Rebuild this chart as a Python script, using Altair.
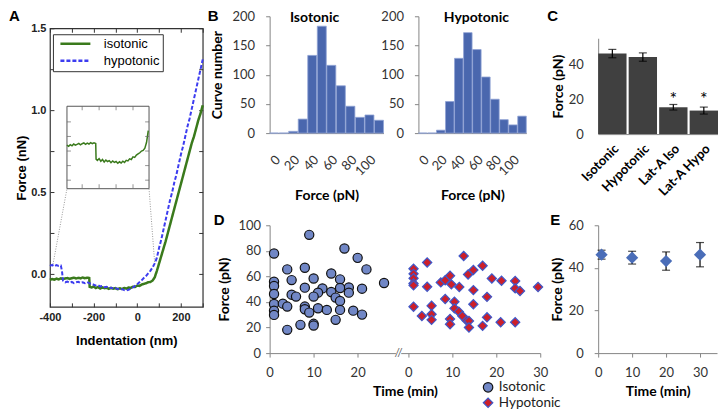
import altair as alt
import pandas as pd

FA = "Liberation Sans"
FB = "Lato"
GREEN = "#3a7a1c"
BLUE = "#3c3cf0"

# ---------------- Panel A: force curves ----------------
green_x = [-400, -390, -380, -370, -360, -350, -340, -330, -320, -310, -300, -290, -280, -270, -260, -250, -240, -230, -220,
           -218, -210, -200, -190, -180, -170, -160, -150, -140, -130, -120, -110, -100, -90, -80, -70, -60, -50, -40, -30,
           -20, -10, 0, 10, 20, 30, 40, 50, 60, 70, 80, 90, 100, 110, 120, 130, 140, 150, 160, 170, 180, 190, 200, 210, 220,
           230, 240, 250, 260, 270, 280, 290, 300]
green_f = [-0.035, -0.030, -0.034, -0.028, -0.032, -0.026, -0.030, -0.027, -0.024, -0.029, -0.025, -0.022, -0.027, -0.023,
           -0.026, -0.021, -0.025, -0.022, -0.024,
           -0.078,
           -0.082, -0.076, -0.085, -0.079, -0.088, -0.081, -0.086, -0.083, -0.090, -0.084, -0.089, -0.086, -0.092, -0.087,
           -0.091, -0.085, -0.089, -0.082, -0.084, -0.077, -0.079,
           -0.070, -0.072, -0.064, -0.060, -0.056, -0.050, -0.048, -0.040, -0.020,
           0.020, 0.065, 0.110, 0.155, 0.200, 0.250, 0.300, 0.350, 0.400, 0.450, 0.500, 0.550, 0.600, 0.650, 0.700, 0.750,
           0.800, 0.840, 0.890, 0.940, 0.980, 1.030]
blue_x = [-400, -390, -380, -370, -360, -350, -345, -340, -330, -320, -310, -300, -290, -280, -270, -260, -250, -240, -230,
          -220, -210, -200, -190, -180, -170, -160, -150, -140, -130, -120, -110, -100, -90, -80, -70, -60, -50, -40, -30,
          -20, -10, 0, 10, 20, 30, 40, 50, 60, 70, 80, 90, 100, 110, 120, 130, 140, 150, 160, 170, 180, 190, 200, 210, 220,
          230, 240, 250, 260, 270, 280, 290, 300]
blue_f = [0.050, 0.056, 0.047, 0.055, 0.050, 0.052,
          0.020,
          -0.040, -0.050, -0.046, -0.053, -0.048, -0.055, -0.050, -0.047, -0.054, -0.050, -0.056, -0.049, -0.055,
          -0.060, -0.064, -0.070, -0.068, -0.075, -0.072, -0.080, -0.078, -0.085, -0.083, -0.088, -0.086, -0.090, -0.094,
          -0.092, -0.098, -0.100, -0.096, -0.090, -0.082, -0.072,
          -0.062, -0.050, -0.038, -0.024, -0.012, 0.005, 0.020, 0.040,
          0.065, 0.100, 0.160, 0.210, 0.270, 0.330, 0.390, 0.450, 0.500, 0.560, 0.610, 0.670, 0.730, 0.780, 0.840, 0.900,
          0.950, 1.010, 1.070, 1.130, 1.190, 1.250, 1.310]
conds_a = ["isotonic", "hypotonic"]
inset_range_x = [-390, 95]
inset_range_f = [-0.178, 0.104]
inset_xticks = [-300, -200, -100, 0]
inset_yticks = [0.05, 0.0, -0.05, -0.10, -0.15]
inset_box = {"x1": [-322], "x2": [54], "y1": [0.521], "y2": [1.024]}
connect_x = [-322, -386, 54, 80]
connect_f = [0.521, 0.06, 0.521, 0.065]
connect_id = [0, 0, 1, 1]

# ---------------- Panel B: histograms ----------------
hist_bins = [0, 10, 20, 30, 40, 50, 60, 70, 80, 90, 100, 110]
iso_counts = [0, 0, 3, 24, 133, 183, 116, 81, 46, 27, 31, 22]
hypo_counts = [0, 0, 5, 54, 128, 172, 143, 96, 58, 23, 14, 29]

# ---------------- Panel C: bar chart ----------------
c_cats = ["Isotonic", "Hypotonic", "Lat-A Iso", "Lat-A Hypo"]
c_mean = [46.2, 44.2, 15.4, 13.5]
c_err = [2.4, 2.4, 1.6, 2.0]
star_cats = ["Lat-A Iso", "Lat-A Hypo"]
star_y = [19.5, 19.5]

# ---------------- Panel D: scatter over time ----------------
iso_t = [1, 1, 1, 1, 1, 1, 1, 9, 17, 20, 22, 4, 8, 5, 10, 14, 16, 26, 18, 21, 8, 12, 16, 11, 14, 18, 5, 6, 10, 15, 16,
         3, 4, 8, 8, 9, 11, 13, 16, 19, 21, 7, 10, 10, 15, 4]
iso_f = [77.9, 55.8, 52.5, 46.2, 38.4, 33.2, 29.9, 92.5, 81.8, 74.5, 65.5, 65.5, 66.8, 57.1, 58.4, 62.3, 57.7, 54.8, 51.4,
         50.4, 51.2, 50.6, 50.9, 47.3, 47.8, 47.3, 45.7, 44.2, 44.2, 43.4, 40.8, 38.7, 36.4, 36.4, 34.3, 31.7, 35.1, 33.8,
         33.8, 33.2, 30.1, 22.1, 22.9, 21.6, 26.0, 18.2]
hypo_t = [1.2, 1.2, 1.2, 1.2, 1.2, 1.2, 4.3, 4.3, 3.1, 5.3, 5.3, 5.3, 7.4, 8.4, 9.5, 9.8, 11.6, 8.4, 10.5, 10.5, 11.5,
          12.3, 13.3, 9.5, 9.5, 13.8, 13.8, 12.6, 13.6, 14.8, 16.9, 14.8, 14.8, 17.9, 17.9, 16.9, 19, 21.2, 21, 24.3,
          24.3, 25.4, 24.3, 29.5]
hypo_f = [66, 62, 58.5, 54.5, 53, 36.3, 70.9, 51.9, 29, 37, 30.4, 26, 55.3, 57, 60.5, 53.8, 51.7, 42.3, 40.2, 35, 32.4,
          29, 25.4, 26.7, 22.6, 25.2, 20, 76, 61.5, 65, 68.3, 49.3, 38.2, 44, 28, 21.3, 58.4, 56.6, 24.1, 56.4, 50.6,
          48.6, 24.1, 51.7]
conds_d = ["Isotonic", "Hypotonic"]
d_offset = 31.5
d_break = 29.3

# ---------------- Panel E: mean over time ----------------
e_t = [1, 10, 20, 30]
e_mean = [46.2, 44.8, 43.2, 46.2]
e_err = [2.1, 3.0, 4.3, 5.7]


def xl_axis(**kw):
    base = dict(domainColor="#868686", tickColor="#868686", tickSize=4, labelFont=FB, labelFontSize=13,
                labelColor="#333333", titleFont=FB, titleFontSize=14, titleFontWeight="bold", titleColor="black",
                grid=False, labelFlush=False, labelOverlap=False)
    base.update(kw)
    return alt.Axis(**base)


def letter(ch, x, y):
    return alt.Chart(pd.DataFrame({"t": [ch]})).mark_text(
        align="left", baseline="top", font=FA, fontSize=15, fontWeight="bold", color="black"
    ).encode(x=alt.value(x), y=alt.value(y), text="t:N")


def spacer(h):
    return alt.Chart(pd.DataFrame({"v": [0]})).mark_point(opacity=0).encode(
        x=alt.X("v:Q", axis=None), y=alt.Y("v:Q", axis=None)
    ).properties(width=1, height=h)


# ===== Panel A =====
a_xs = alt.Scale(domain=[-400, 300], nice=False, zero=False)
a_ys = alt.Scale(domain=[-0.2, 1.5], nice=False, zero=False)
a_xticks = list(range(-400, 301, 100))
a_yticks = [0, 0.25, 0.5, 0.75, 1.0, 1.25, 1.5]
a_xaxis = alt.Axis(values=a_xticks, labelExpr="datum.value % 200 == 0 ? toString(datum.value) : ''",
                   domain=False, offset=-4, tickSize=4, tickColor="#333", labelFont=FA, labelFontSize=11,
                   labelFontWeight="bold", labelColor="#222", labelPadding=5, title="Indentation (nm)", titleFont=FA,
                   titleFontSize=13, titleFontWeight="bold", titlePadding=12, grid=False, labelFlush=False,
                   labelOverlap=False)
a_yaxis = alt.Axis(values=a_yticks, labelExpr="datum.value % 0.5 == 0 ? format(datum.value, '.1f') : ''",
                   domain=False, offset=-4, tickSize=4, tickColor="#333", labelFont=FA, labelFontSize=11,
                   labelFontWeight="bold", labelColor="#222", labelPadding=4, title="Force (nN)", titleFont=FA,
                   titleFontSize=13, titleFontWeight="bold", titlePadding=2, grid=False, labelFlush=False,
                   labelOverlap=False)
leg_a = alt.Legend(title=None, orient="none", legendX=3, legendY=6, strokeColor="#333", fillColor="white",
                   padding=3, symbolType="M-3,0H3", symbolSize=100, symbolOffset=13, symbolStrokeWidth=2.5,
                   labelFont=FA, labelFontSize=13, labelColor="black", rowPadding=3, labelOffset=22)
a_color = alt.Color("cond:N", scale=alt.Scale(domain=conds_a, range=[GREEN, BLUE]), legend=leg_a)
a_dash = alt.StrokeDash("cond:N", scale=alt.Scale(domain=conds_a, range=[[1, 0], [4, 2]]), legend=leg_a)

green_df = pd.DataFrame({"x": green_x, "f": green_f, "cond": "isotonic"})
blue_df = pd.DataFrame({"x": blue_x, "f": blue_f, "cond": "hypotonic"})
inset_df = green_df[(green_df.x >= inset_range_x[0]) & (green_df.x <= inset_range_x[1])]

box = alt.Chart(pd.DataFrame(inset_box)).mark_rect(fill="white", stroke="#555", strokeWidth=1).encode(
    x=alt.X("x1:Q", scale=a_xs, axis=a_xaxis), x2="x2:Q",
    y=alt.Y("y1:Q", scale=a_ys, axis=a_yaxis), y2="y2:Q")
conn = alt.Chart(pd.DataFrame({"x": connect_x, "f": connect_f, "id": connect_id})).mark_line(
    color="#999", strokeWidth=1, strokeDash=[1, 1.5]).encode(
    x=alt.X("x:Q", scale=a_xs, axis=a_xaxis), y=alt.Y("f:Q", scale=a_ys, axis=a_yaxis), detail="id:N")
gline = alt.Chart(green_df).mark_line(strokeWidth=2.5).encode(
    x=alt.X("x:Q", scale=a_xs, axis=a_xaxis), y=alt.Y("f:Q", scale=a_ys, axis=a_yaxis),
    color=a_color, strokeDash=a_dash)
bline = alt.Chart(blue_df).mark_line(strokeWidth=2).encode(
    x=alt.X("x:Q", scale=a_xs, axis=a_xaxis), y=alt.Y("f:Q", scale=a_ys, axis=a_yaxis),
    color=a_color, strokeDash=a_dash)
a_main = alt.layer(box, conn, gline, bline, letter("A", -41, -19))

# inset: zoom of the isotonic curve, drawn on its own scales inside the box
ix = alt.Scale(domain=inset_range_x, range=[17, 99.3], nice=False, zero=False)
iy = alt.Scale(domain=inset_range_f, range=[160.3, 78], nice=False, zero=False)
i_line = alt.Chart(inset_df).mark_line(color=GREEN, strokeWidth=1.5).encode(
    x=alt.X("x:Q", scale=ix, axis=None), y=alt.Y("f:Q", scale=iy, axis=None))
yt_df = pd.DataFrame({"y": inset_yticks, "xl": inset_range_x[0], "xr": inset_range_x[1]})
xt_df = pd.DataFrame({"x": inset_xticks, "yb": inset_range_f[0], "yt": inset_range_f[1]})
i_tl = alt.Chart(yt_df).mark_tick(orient="horizontal", size=4, thickness=1, color="#666", xOffset=2).encode(
    x=alt.X("xl:Q", scale=ix, axis=None), y=alt.Y("y:Q", scale=iy, axis=None))
i_tr = alt.Chart(yt_df).mark_tick(orient="horizontal", size=4, thickness=1, color="#666", xOffset=-2).encode(
    x=alt.X("xr:Q", scale=ix, axis=None), y=alt.Y("y:Q", scale=iy, axis=None))
i_tt = alt.Chart(xt_df).mark_tick(orient="vertical", size=4, thickness=1, color="#666", yOffset=2).encode(
    x=alt.X("x:Q", scale=ix, axis=None), y=alt.Y("yt:Q", scale=iy, axis=None))
i_tb = alt.Chart(xt_df).mark_tick(orient="vertical", size=4, thickness=1, color="#666", yOffset=-2).encode(
    x=alt.X("x:Q", scale=ix, axis=None), y=alt.Y("yb:Q", scale=iy, axis=None))
a_inset = alt.layer(i_line, i_tl, i_tr, i_tt, i_tb)

a_frame = alt.Chart(pd.DataFrame({"x": [0], "f": [0]})).mark_point(opacity=0).encode(
    x=alt.X("x:Q", scale=a_xs, axis=alt.Axis(orient="top", values=a_xticks, labels=False, domain=False, offset=-4,
                                               tickSize=4, tickColor="#333", title=None, grid=False)),
    y=alt.Y("f:Q", scale=a_ys, axis=alt.Axis(orient="right", values=a_yticks, labels=False, domain=False, offset=-4,
                                               tickSize=4, tickColor="#333", title=None, grid=False)))

panel_a = alt.layer(a_main, a_inset, a_frame).resolve_scale(x="independent", y="independent").properties(
    width=153, height=279, view=alt.ViewBackground(stroke="#333", strokeWidth=1.2))


# ===== Panel B =====
def hist(counts, label, label_x, ytitle, width, let=None):
    df = pd.DataFrame({"bin": hist_bins, "count": counts})
    bx = alt.X("bin:O", scale=alt.Scale(paddingInner=0.06, paddingOuter=0.0),
               axis=xl_axis(labelAngle=-45, ticks=False, labelPadding=20, titlePadding=10, title="Force (pN)",
                            labelExpr="datum.value % 20 == 0 && datum.value <= 100 ? datum.label : ''"))
    by = alt.Y("count:Q", scale=alt.Scale(domain=[0, 200], nice=False),
               axis=xl_axis(values=[0, 50, 100, 150, 200], labelPadding=11, title=ytitle, titlePadding=8))
    bars = alt.Chart(df).mark_bar(color="#4a67ae", stroke="#8fa2d4", strokeWidth=0.8).encode(x=bx, y=by)
    ttl = alt.Chart(pd.DataFrame({"t": [label]})).mark_text(
        font=FB, fontSize=14, fontWeight="bold", color="black", baseline="middle").encode(
        x=alt.value(label_x), y=alt.value(1.5), text="t:N")
    layers = [bars, ttl]
    if let:
        layers.append(letter(let, -62, -7.7))
    return alt.layer(*layers).properties(width=width, height=117)


panel_b1 = hist(iso_counts, "Isotonic", 45, "Curve number", 114, "B")
panel_b2 = hist(hypo_counts, "Hypotonic", 58, None, 108)

# ===== Panel C =====
c_df = pd.DataFrame({"cond": c_cats, "mean": c_mean,
                     "lo": [m - e for m, e in zip(c_mean, c_err)],
                     "hi": [m + e for m, e in zip(c_mean, c_err)]})
cx = alt.X("cond:N", sort=c_cats, scale=alt.Scale(paddingInner=0.07, paddingOuter=0.0),
           axis=xl_axis(labelAngle=-45, ticks=False, labelFontWeight="bold", labelColor="black", labelPadding=8,
                        title=None))
cy_scale = alt.Scale(domain=[0, 55], nice=False)
cy_axis = xl_axis(values=[0, 20, 40], ticks=False, labelPadding=15, title="Force (pN)", titlePadding=3)
c_bars = alt.Chart(c_df).mark_bar(color="#404040").encode(
    x=cx, y=alt.Y("mean:Q", scale=cy_scale, axis=cy_axis, title="Force (pN)"))
c_rule = alt.Chart(c_df).mark_rule(color="black", strokeWidth=1.2).encode(
    x=cx, y=alt.Y("lo:Q", scale=cy_scale, axis=cy_axis, title="Force (pN)"), y2="hi:Q")
c_cap1 = alt.Chart(c_df).mark_tick(color="black", thickness=1.2, size=8).encode(
    x=cx, y=alt.Y("lo:Q", scale=cy_scale, axis=cy_axis, title="Force (pN)"))
c_cap2 = alt.Chart(c_df).mark_tick(color="black", thickness=1.2, size=8).encode(
    x=cx, y=alt.Y("hi:Q", scale=cy_scale, axis=cy_axis, title="Force (pN)"))
c_star = alt.Chart(pd.DataFrame({"cond": star_cats, "y": star_y, "t": ["*", "*"]})).mark_text(
    font=FB, fontSize=18, color="black", baseline="middle").encode(
    x=cx, y=alt.Y("y:Q", scale=cy_scale, axis=cy_axis, title="Force (pN)"), text="t:N")
panel_c = alt.layer(c_bars, c_rule, c_cap1, c_cap2, c_star, letter("C", -51, -29.7)).properties(width=120, height=96)

# ===== Panel D =====
d_df = pd.DataFrame({
    "pos": iso_t + [t + d_offset for t in hypo_t],
    "force": iso_f + hypo_f,
    "cond": ["Isotonic"] * len(iso_t) + ["Hypotonic"] * len(hypo_t)})
dx_scale = alt.Scale(domain=[0, 61.5], nice=False, zero=False)
dy_scale = alt.Scale(domain=[0, 100], nice=False)
dx_axis = xl_axis(values=[0, 10, 20, 31.5, 41.5, 51.5, 61.5],
                  labelExpr="datum.value > 30 ? format(datum.value - 31.5, 'd') : format(datum.value, 'd')",
                  labelPadding=9, title="Time (min)", titlePadding=5, zindex=0)
dy_axis = xl_axis(values=[0, 20, 40, 60, 80, 100], labelPadding=5, title="Force (pN)", titlePadding=7, zindex=0)
leg_d = alt.Legend(title=None, orient="none", legendX=212, legendY=155.5, symbolSize=90, labelFont=FB,
                   labelFontSize=13.5, labelColor="#222", rowPadding=0.5, labelOffset=4, padding=0,
                   symbolStrokeWidth=1.2)
d_pts = alt.Chart(d_df).mark_point(filled=True, opacity=1, strokeWidth=1.2, size=85).encode(
    x=alt.X("pos:Q", scale=dx_scale, axis=dx_axis),
    y=alt.Y("force:Q", scale=dy_scale, axis=dy_axis),
    shape=alt.Shape("cond:N", scale=alt.Scale(domain=conds_d, range=["circle", "diamond"]), legend=leg_d),
    fill=alt.Fill("cond:N", scale=alt.Scale(domain=conds_d, range=["#7187c6", "#cc1f2a"]), legend=leg_d),
    stroke=alt.Stroke("cond:N", scale=alt.Scale(domain=conds_d, range=["#111111", "#3f57c8"]), legend=leg_d))
brk = pd.DataFrame({"x1": [d_break - 0.6], "x2": [d_break + 0.6], "y1": [-2.0], "y2": [2.0],
                    "x": [d_break], "y": [0.0], "t": ["//"]})
d_gap = alt.Chart(brk).mark_rect(color="white").encode(
    x=alt.X("x1:Q", scale=dx_scale, axis=dx_axis), x2="x2:Q",
    y=alt.Y("y1:Q", scale=dy_scale, axis=dy_axis), y2="y2:Q")
d_brk = alt.Chart(brk).mark_text(font=FB, fontSize=12, color="#666", baseline="middle").encode(
    x=alt.X("x:Q", scale=dx_scale, axis=dx_axis), y=alt.Y("y:Q", scale=dy_scale, axis=dy_axis), text="t:N")
panel_d = alt.layer(d_pts, d_gap, d_brk, letter("D", -56, -12)).properties(width=271, height=128)

# ===== Panel E =====
e_df = pd.DataFrame({"t": e_t, "mean": e_mean,
                     "lo": [m - e for m, e in zip(e_mean, e_err)],
                     "hi": [m + e for m, e in zip(e_mean, e_err)]})
ex_scale = alt.Scale(domain=[0, 35], nice=False, zero=False)
ey_scale = alt.Scale(domain=[0, 60], nice=False)
ex_axis = xl_axis(values=[0, 10, 20, 30], labelPadding=9, title="Time (min)", titlePadding=5)
ey_axis = xl_axis(values=[0, 20, 40, 60], labelPadding=11, title="Force (pN)", titlePadding=4)
e_rule = alt.Chart(e_df).mark_rule(color="black", strokeWidth=1.2).encode(
    x=alt.X("t:Q", scale=ex_scale, axis=ex_axis), y=alt.Y("lo:Q", scale=ey_scale, axis=ey_axis, title="Force (pN)"),
    y2="hi:Q")
e_cap1 = alt.Chart(e_df).mark_tick(color="black", thickness=1.2, size=8, orient="horizontal").encode(
    x=alt.X("t:Q", scale=ex_scale, axis=ex_axis), y=alt.Y("lo:Q", scale=ey_scale, axis=ey_axis, title="Force (pN)"))
e_cap2 = alt.Chart(e_df).mark_tick(color="black", thickness=1.2, size=8, orient="horizontal").encode(
    x=alt.X("t:Q", scale=ex_scale, axis=ex_axis), y=alt.Y("hi:Q", scale=ey_scale, axis=ey_axis, title="Force (pN)"))
e_pts = alt.Chart(e_df).mark_point(shape="diamond", filled=True, size=150, color="#4a6db8", opacity=1).encode(
    x=alt.X("t:Q", scale=ex_scale, axis=ex_axis), y=alt.Y("mean:Q", scale=ey_scale, axis=ey_axis, title="Force (pN)"))
panel_e = alt.layer(e_rule, e_cap1, e_cap2, e_pts, letter("E", -48, -12)).properties(width=119, height=128)

# ===== Layout =====
# With flush bounds, nested concat groups count as zero-size, so the spacing after
# a nested group is the full offset to the next panel's plot area.
IND = dict(color="independent", strokeDash="independent", fill="independent", stroke="independent",
           shape="independent")

a_col = alt.vconcat(spacer(11.3), panel_a, spacing=0, bounds="flush").resolve_scale(**IND)
b12 = alt.hconcat(panel_b1, panel_b2, spacing=35, bounds="flush")
c_col = alt.vconcat(spacer(22), panel_c, spacing=0, bounds="flush")
row1 = alt.hconcat(b12, c_col, spacing=329, bounds="flush")
row2 = alt.hconcat(panel_d, panel_e, spacing=58, bounds="flush").resolve_scale(**IND)
right = alt.vconcat(row1, row2, spacing=209.3, bounds="flush").resolve_scale(**IND)

chart = alt.hconcat(a_col, right, spacing=220, bounds="flush").resolve_scale(**IND).properties(
    padding=0).configure_view(stroke=None)

chart.save("out.html", embed_options={"renderer": "svg", "actions": False})
